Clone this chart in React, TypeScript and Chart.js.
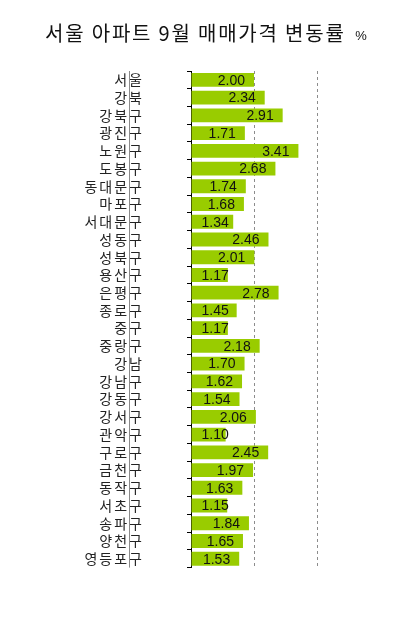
import React, { useEffect, useRef } from "react";
import { Chart, registerables } from "chart.js";

Chart.register(...registerables);

const TITLE = "서울 아파트 9월 매매가격 변동률";
const UNIT = "%";
const categories = [
  "서울", "강북", "강북구", "광진구", "노원구", "도봉구", "동대문구", "마포구",
  "서대문구", "성동구", "성북구", "용산구", "은평구", "종로구", "중구", "중랑구",
  "강남", "강남구", "강동구", "강서구", "관악구", "구로구", "금천구", "동작구",
  "서초구", "송파구", "양천구", "영등포구",
];
const values = [
  2.0, 2.34, 2.91, 1.71, 3.41, 2.68, 1.74, 1.68, 1.34, 2.46, 2.01, 1.17, 2.78, 1.45,
  1.17, 2.18, 1.7, 1.62, 1.54, 2.06, 1.1, 2.45, 1.97, 1.63, 1.15, 1.84, 1.65, 1.53,
];
const xMin = 0;
const xMax = 4;
const xStep = 2;

const KR = "'Noto Sans CJK KR', 'Noto Sans', sans-serif";
const NUM = "'Liberation Sans', Arial, sans-serif";

const decor = {
  id: "decor",
  beforeDraw(chart: any) {
    (chart.ctx as any).letterSpacing = "2px";
  },
  beforeDatasetsDraw(chart: any) {
    (chart.ctx as any).letterSpacing = "0px";
  },
  afterDraw(chart: any) {
    const ctx = chart.ctx;
    const area = chart.chartArea;
    ctx.save();
    // title
    ctx.fillStyle = "#111";
    (ctx as any).letterSpacing = "1.8px";
    ctx.font = `20px ${KR}`;
    ctx.textAlign = "left";
    ctx.textBaseline = "middle";
    ctx.fillText(TITLE, 45, 33);
    (ctx as any).letterSpacing = "0px";
    ctx.font = `13px ${NUM}`;
    ctx.textAlign = "center";
    ctx.fillText(UNIT, 361, 36);
    // thin separator line through labels
    ctx.strokeStyle = "#8a8a8a";
    ctx.lineWidth = 1;
    ctx.beginPath();
    ctx.moveTo(129.5, area.top);
    ctx.lineTo(129.5, area.bottom);
    ctx.stroke();
    ctx.restore();
  },
  afterDatasetsDraw(chart: any) {
    const ctx = chart.ctx;
    const meta = chart.getDatasetMeta(0);
    ctx.save();
    (ctx as any).letterSpacing = "0px";
    ctx.font = `14px ${NUM}`;
    ctx.fillStyle = "#111";
    ctx.textAlign = "right";
    ctx.textBaseline = "middle";
    meta.data.forEach((el: any, i: number) => {
      const txt = values[i].toFixed(2);
      const w = ctx.measureText(txt).width;
      const x = Math.max(el.x - 9, el.base + 10 + w);
      ctx.fillText(txt, x, el.y + 1);
    });
    ctx.restore();
  },
};

export default function App() {
  const ref = useRef<HTMLCanvasElement>(null);
  useEffect(() => {
    document.body.style.margin = "0";
    const chart = new Chart(ref.current as HTMLCanvasElement, {
      type: "bar",
      data: {
        labels: categories,
        datasets: [
          {
            data: values,
            backgroundColor: "#99cc00",
            borderWidth: 0,
            barPercentage: 0.78,
            categoryPercentage: 1,
          },
        ],
      },
      options: {
        indexAxis: "y",
        animation: false,
        responsive: false,
        layout: { padding: { left: 0, right: 92, top: 71, bottom: 44 } },
        plugins: {
          legend: { display: false },
          tooltip: { enabled: false },
          title: { display: false },
        },
        scales: {
          x: {
            min: xMin,
            max: xMax,
            ticks: { display: false, stepSize: xStep },
            grid: {
              color: (c: any) => (c.tick && c.tick.value === 0 ? "rgba(0,0,0,0)" : "#8c8c8c"),
              drawTicks: false,
            },
            border: { display: false, dash: [3, 3] },
            afterFit: (s: any) => {
              s.height = 0;
            },
          },
          y: {
            ticks: {
              color: "#222",
              font: { family: KR, size: 14 },
              padding: 43,
              autoSkip: false,
            },
            grid: {
              offset: true,
              drawOnChartArea: false,
              drawTicks: true,
              tickLength: 4,
              color: "#000",
            },
            border: { display: true, color: "#000", width: 1 },
            afterFit: (s: any) => {
              s.width = 191;
            },
          },
        },
      },
      plugins: [decor],
    });
    return () => chart.destroy();
  }, []);
  return (
    <div style={{ position: "absolute", left: 0, top: 0, width: 409, height: 619, background: "#fff" }}>
      <canvas ref={ref} width={409} height={619} />
    </div>
  );
}
